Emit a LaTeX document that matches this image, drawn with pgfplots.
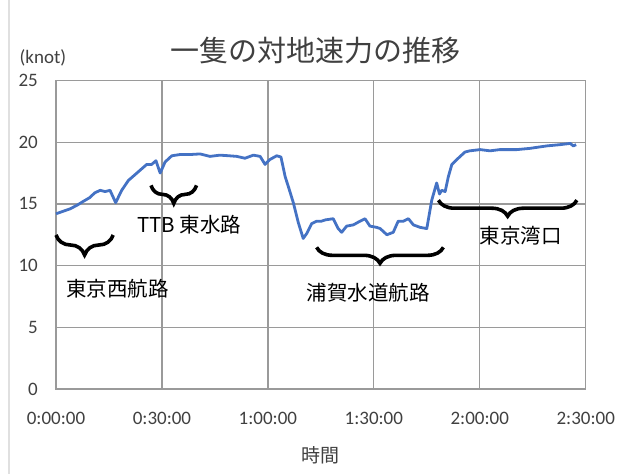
\documentclass[border=0pt]{standalone}
\usepackage{fontspec}
\setmainfont{Carlito}
\newfontfamily\jp{Noto Sans CJK JP}
\usepackage{pgfplots}
\pgfplotsset{compat=1.18}
\usetikzlibrary{decorations.pathreplacing}
\definecolor{excelblue}{HTML}{4472C4}
\definecolor{gridgray}{HTML}{9A9A9A}
\definecolor{txt}{HTML}{404040}
\begin{document}
\begin{tikzpicture}
\useasboundingbox (0,0) rectangle (624bp,474bp);
\draw[color=black!12, line width=1.5bp] (9bp,0) -- (9bp,474bp);
\begin{axis}[
  at={(56bp,85bp)}, anchor=south west,
  scale only axis, width=529.7bp, height=308.5bp,
  xmin=0, xmax=150, ymin=0, ymax=25,
  xtick={0,30,60,90,120,150},
  xticklabels={0:00:00,0:30:00,1:00:00,1:30:00,2:00:00,2:30:00},
  ytick={0,5,10,15,20,25},
  major tick length=0pt,
  grid=major,
  major grid style={gridgray, line width=1.3bp},
  axis line style={gridgray, line width=1.3bp},
  tick style={draw=none},
  /pgf/number format/assume math mode=true,
  ticklabel style={font=\fontsize{19bp}{22bp}\selectfont, text=txt},
  xticklabel style={anchor=center, inner sep=0pt, yshift=-29bp},
  yticklabel style={anchor=east, inner sep=0pt, xshift=-18bp},
  clip=false,
]
\addplot[excelblue, line width=2.8bp, line join=round] coordinates {
(0,14.2) (2,14.4) (4,14.6) (6,14.9) (7.7,15.2) (9.5,15.5) (11,15.9) (12.5,16.1)
(13.9,16.0) (15.3,16.1) (16.9,15.1) (18.6,16.1) (20.5,16.9) (22.9,17.5) (25.7,18.2)
(27.1,18.2) (28.3,18.5) (29.5,17.5) (30.9,18.4) (32.8,18.9) (35.1,19.0) (38,19.0)
(40.8,19.05) (43.6,18.85) (46.4,18.95) (49,18.9) (51.2,18.85) (53.5,18.7) (55.9,18.95)
(57.8,18.85) (59.2,18.2) (60.6,18.6) (62.5,18.9) (63.7,18.8) (64.9,17.2) (65.8,16.4)
(67.2,15.1) (68.6,13.5) (70.0,12.2) (71.0,12.6) (72.4,13.4) (73.8,13.6) (75.2,13.6)
(76.2,13.7) (78.5,13.8) (79.9,13.0) (80.9,12.7) (82.3,13.2) (84.2,13.3) (86.1,13.6)
(87.5,13.8) (88.9,13.2) (90.8,13.1) (91.8,13.0) (93.7,12.5) (95.5,12.7) (96.9,13.6)
(98.4,13.6) (99.8,13.8) (101.2,13.3) (103.1,13.1) (105.0,13.0) (106.4,15.3) (107.8,16.7)
(108.6,15.8) (109.2,16.1) (110.2,16.0) (111.1,17.2) (112.1,18.2) (113.9,18.7) (115.8,19.2)
(117.2,19.3) (120.1,19.4) (122.9,19.3) (125.7,19.4) (130.5,19.4) (134.2,19.5) (139.0,19.7)
(142.7,19.8) (145.6,19.9) (146.5,19.7) (147.3,19.8)
};
% braces
\draw[line width=3.6bp, decorate, decoration={brace, mirror, amplitude=20bp}] (axis cs:0,12.48) -- (axis cs:16.2,12.48);
\draw[line width=3.6bp, decorate, decoration={brace, mirror, amplitude=18bp}] (axis cs:26.9,16.5) -- (axis cs:39.8,16.5);
\draw[line width=3.6bp, decorate, decoration={brace, mirror, amplitude=16bp}] (axis cs:73.8,11.48) -- (axis cs:109.7,11.48);
\draw[line width=3.6bp, decorate, decoration={brace, mirror, amplitude=16bp}] (axis cs:108.3,15.3) -- (axis cs:147.5,15.3);
% annotation labels
\node[font=\jp\fontsize{20.5bp}{24bp}\selectfont] at (axis cs:17.4,8.1) {東京西航路};
\node[font=\jp\fontsize{20.5bp}{24bp}\selectfont] at (axis cs:37.7,13.3) {TTB 東水路};
\node[font=\jp\fontsize{20.5bp}{24bp}\selectfont] at (axis cs:88.4,7.8) {浦賀水道航路};
\node[font=\jp\fontsize{20.5bp}{24bp}\selectfont] at (axis cs:131.6,12.4) {東京湾口};
% title, units, x label
\node[font=\jp\fontsize{29bp}{33bp}\selectfont, text=txt] at ([yshift=30.5bp]rel axis cs:0.49,1) {一隻の対地速力の推移};
\node[font=\fontsize{19bp}{22bp}\selectfont, text=txt] at ([xshift=-13bp,yshift=23bp]rel axis cs:0,1) {(knot)};
\node[font=\jp\fontsize{19bp}{22bp}\selectfont, text=txt] at ([yshift=-66bp]rel axis cs:0.5,0) {時間};
\end{axis}
\end{tikzpicture}
\end{document}
